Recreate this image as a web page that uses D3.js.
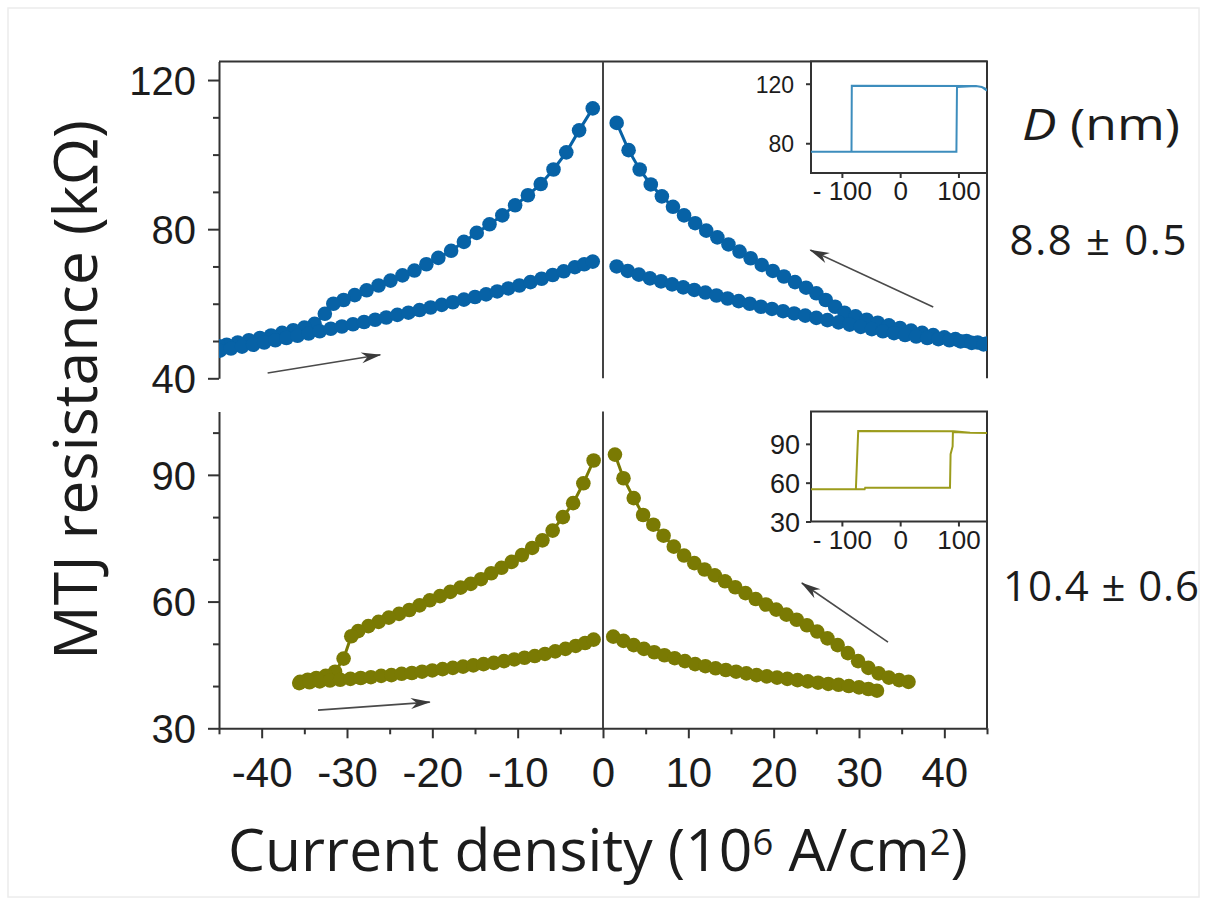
<!DOCTYPE html>
<html>
<head>
<meta charset="utf-8">
<script src="https://cdn.jsdelivr.net/npm/d3@7"></script>
<style>
  body { margin: 0; background: #fff; }
  svg { display: block; }
  text { font-family: "Liberation Sans", Arial, sans-serif; fill: #1c1c1c; }
  .title { font-family: "Open Sans", "Noto Sans", sans-serif; }
  .axis path, .axis line { stroke: #333; stroke-width: 2; }
</style>
</head>
<body>
<svg id="chart"></svg>
<script>
// ---- data (current density in 10^6 A/cm^2, resistance in kOhm) ----
const xMajorTicks = [-40, -30, -20, -10, 0, 10, 20, 30, 40];
const xMinorTicks = [-45, -35, -25, -15, -5, 5, 15, 25, 35, 45];
const topYMajor = [40, 80, 120];
const topYMinor = [50, 60, 70, 90, 100, 110];
const bottomYMajor = [30, 60, 90];
const bottomYMinor = [40, 50, 70, 80, 100];
const insetXTicks = [-100, 0, 100];
const topInsetYTicks = [80, 120];
const bottomInsetYTicks = [30, 60, 90];

// D = 8.8 nm
const topNegUpperJ = [-1.2, -2.8, -4.3, -5.8, -7.3, -8.8, -10.3, -11.8, -13.3, -14.8, -16.3, -17.8, -19.3, -20.7, -22.1, -23.5, -24.9, -26.3, -27.7, -29.1, -30.4, -31.6, -32.6, -33.8, -35.0, -36.3, -37.6, -38.9, -40.2, -41.5, -42.8, -44.1, -45.0];
const topNegUpperR = [112.4, 106.5, 100.6, 96.0, 92.1, 89.1, 86.4, 83.7, 81.3, 79.0, 76.6, 74.2, 72.3, 70.6, 68.9, 67.6, 66.2, 64.9, 63.6, 62.3, 61.0, 60.0, 57.3, 54.6, 53.6, 52.9, 52.2, 51.5, 50.8, 50.2, 49.6, 49.0, 48.6];
const topNegLowerJ = [-44.9, -43.6, -42.3, -41.0, -39.7, -38.4, -37.1, -35.8, -34.5, -33.2, -31.9, -30.6, -29.3, -28.0, -26.7, -25.4, -24.1, -22.8, -21.5, -20.2, -18.9, -17.6, -16.3, -15.0, -13.7, -12.4, -11.1, -9.8, -8.5, -7.2, -5.9, -4.6, -3.3, -2.2, -1.2];
const topNegLowerR = [47.4, 48.0, 48.5, 49.0, 49.6, 50.2, 50.8, 51.4, 52.0, 52.6, 53.3, 53.9, 54.5, 55.1, 55.7, 56.3, 57.0, 57.6, 58.3, 59.0, 59.7, 60.4, 61.1, 61.8, 62.5, 63.3, 64.1, 64.9, 65.8, 66.7, 67.7, 68.7, 69.8, 70.6, 71.3];
const topPosUpperJ = [1.6, 3.0, 4.3, 5.6, 6.9, 8.2, 9.5, 10.8, 12.1, 13.4, 14.7, 16.0, 17.3, 18.6, 19.9, 21.2, 22.5, 23.8, 25.0, 26.1, 27.2, 28.3, 29.6, 30.9, 32.2, 33.5, 34.8, 36.1, 37.4, 38.7, 40.0, 41.3, 42.6, 43.9, 45.0];
const topPosUpperR = [108.5, 101.2, 96.0, 92.0, 88.8, 86.0, 83.7, 81.6, 79.6, 77.8, 75.9, 74.0, 72.2, 70.4, 68.8, 67.3, 65.8, 64.3, 62.8, 61.0, 59.2, 57.6, 56.6, 55.7, 54.9, 54.2, 53.5, 52.8, 52.2, 51.6, 51.0, 50.5, 50.0, 49.6, 49.3];
const topPosLowerJ = [1.6, 2.9, 4.2, 5.5, 6.8, 8.1, 9.4, 10.7, 12.0, 13.3, 14.6, 15.9, 17.2, 18.5, 19.8, 21.1, 22.4, 23.7, 25.0, 26.3, 27.6, 28.9, 30.2, 31.5, 32.8, 34.1, 35.4, 36.7, 38.0, 39.3, 40.6, 41.9, 43.2, 44.6];
const topPosLowerR = [70.0, 68.8, 67.8, 66.8, 66.0, 65.2, 64.4, 63.7, 63.0, 62.2, 61.4, 60.7, 60.0, 59.2, 58.6, 58.0, 57.4, 56.8, 56.2, 55.6, 55.0, 54.4, 53.8, 53.2, 52.6, 52.1, 51.6, 51.2, 50.8, 50.5, 50.2, 49.9, 49.5, 49.1];

// D = 10.4 nm
const botNegUpperJ = [-1.1, -2.3, -3.5, -4.7, -5.9, -7.1, -8.3, -9.5, -10.7, -11.9, -13.1, -14.3, -15.5, -16.7, -17.9, -19.1, -20.3, -21.5, -22.7, -23.9, -25.1, -26.3, -27.5, -28.7, -29.5, -30.4, -31.4, -32.5, -33.6, -34.6, -35.5];
const botNegUpperR = [93.4, 88.0, 83.3, 80.0, 76.8, 74.5, 72.7, 71.0, 69.4, 68.0, 66.7, 65.3, 64.2, 63.3, 62.3, 61.3, 60.3, 59.1, 58.0, 57.1, 56.2, 55.2, 54.2, 53.0, 51.8, 46.5, 43.4, 42.4, 41.9, 41.5, 41.0];
const botNegLowerJ = [-35.6, -34.4, -33.2, -32.0, -30.8, -29.6, -28.4, -27.2, -26.0, -24.8, -23.6, -22.4, -21.2, -20.0, -18.8, -17.6, -16.4, -15.2, -14.0, -12.8, -11.6, -10.4, -9.2, -8.0, -6.8, -5.6, -4.4, -3.2, -2.1, -1.1];
const botNegLowerR = [40.7, 40.9, 41.1, 41.3, 41.5, 41.7, 41.9, 42.1, 42.4, 42.6, 42.9, 43.1, 43.4, 43.7, 44.0, 44.3, 44.6, 44.9, 45.2, 45.5, 45.9, 46.3, 46.7, 47.1, 47.6, 48.2, 48.8, 49.5, 50.2, 51.0];
const botPosUpperJ = [1.4, 2.4, 3.6, 4.7, 5.9, 7.1, 8.3, 9.5, 10.7, 11.9, 13.1, 14.3, 15.5, 16.7, 17.9, 19.1, 20.3, 21.5, 22.7, 23.9, 25.1, 26.3, 27.5, 28.7, 29.9, 31.1, 32.3, 33.5, 34.7, 35.8];
const botPosUpperR = [94.8, 89.2, 84.5, 80.5, 78.2, 75.6, 73.0, 70.9, 69.1, 67.6, 66.2, 64.8, 63.4, 62.0, 60.6, 59.3, 58.1, 56.9, 55.7, 54.4, 52.9, 51.3, 49.7, 47.8, 45.9, 44.3, 43.0, 42.0, 41.4, 41.0];
const botPosLowerJ = [1.2, 2.4, 3.6, 4.8, 6.0, 7.2, 8.4, 9.6, 10.8, 12.0, 13.2, 14.4, 15.6, 16.8, 18.0, 19.2, 20.4, 21.6, 22.8, 24.0, 25.2, 26.4, 27.6, 28.8, 30.0, 31.1, 32.1];
const botPosLowerR = [51.7, 50.7, 49.7, 48.8, 48.0, 47.3, 46.6, 45.9, 45.2, 44.7, 44.2, 43.8, 43.4, 43.0, 42.6, 42.3, 42.0, 41.7, 41.4, 41.1, 40.8, 40.5, 40.3, 40.0, 39.7, 39.3, 38.9];

// insets: field sweep (Oe) vs resistance (kOhm)
const topInsetField = [-153, 96.5, 97.5, 130, 140, 146, 149, 140, 130, -83, -83.5, -153];
const topInsetR = [74.2, 74.2, 117.8, 118.4, 117.8, 116.8, 115.4, 117.8, 118.4, 118.6, 74.2, 74.2];
const botInsetField = [-153, -61, -60, 85.5, 86.5, 90, 90.5, 120, 149, 120, 92, -72, -76, -153];
const botInsetR = [54.9, 54.9, 56.1, 56.1, 82, 88, 99.2, 98.6, 98.3, 98.6, 99.8, 99.9, 54.9, 54.9];

// arrows [j0, r0, j1, r1] in data units
const topArrows = [[-39.3, 41.4, -26.1, 46.3], [38.7, 59.1, 24.3, 74.4]];
const botArrows = [[-33.4, 34.3, -20.3, 36.2], [33.4, 50.4, 23.3, 64.4]];

const sizeLabels = ['8.8 \u00b1 0.5', '10.4 \u00b1 0.6'];

// ---- layout ----
const W = 1207, H = 905;
const plotLeft = 219, plotRight = 987;
const blue = '#0762a6', olive = '#7a7a03';
const plainNum = d => String(d); // hyphen minus like the original figure

const svg = d3.select('#chart').attr('width', W).attr('height', H);

svg.append('rect')
  .attr('x', 8).attr('y', 8).attr('width', W - 16).attr('height', H - 16)
  .attr('fill', 'none').attr('stroke', '#ececec').attr('stroke-width', 1.5);

const x = d3.scaleLinear().domain([-45, 45]).range([plotLeft, plotRight]);

const defs = svg.append('defs');
defs.append('marker')
  .attr('id', 'arrowhead')
  .attr('markerUnits', 'userSpaceOnUse')
  .attr('viewBox', '-20 -6 22 12')
  .attr('refX', 0).attr('refY', 0)
  .attr('markerWidth', 22).attr('markerHeight', 12)
  .attr('orient', 'auto')
  .append('path')
  .attr('d', 'M1,0 L-19,-5.5 L-13,0 L-19,5.5 Z')
  .attr('fill', '#3a3a3a');

const panels = [
  {
    id: 'top', color: blue, insetColor: '#3d8dbd',
    yDomain: [40, 125], yRange: [378.3, 61.4],
    major: topYMajor, minor: topYMinor, bottomAxis: false, topLine: true,
    branches: [[topNegUpperJ, topNegUpperR], [topNegLowerJ, topNegLowerR], [topPosUpperJ, topPosUpperR], [topPosLowerJ, topPosLowerR]],
    arrows: topArrows,
    inset: { field: topInsetField, r: topInsetR, yDomain: [60, 135], yRange: [173, 61.4], ticks: topInsetYTicks, pad: 12, ySize: 23 },
    label: sizeLabels[0], labelX: 1098, labelY: 255, labelW: 177
  },
  {
    id: 'bottom', color: olive, insetColor: '#9c9c1c',
    yDomain: [30, 105], yRange: [728.3, 411.5],
    major: bottomYMajor, minor: bottomYMinor, bottomAxis: true, topLine: false,
    branches: [[botNegUpperJ, botNegUpperR], [botNegLowerJ, botNegLowerR], [botPosUpperJ, botPosUpperR], [botPosLowerJ, botPosLowerR]],
    arrows: botArrows,
    inset: { field: botInsetField, r: botInsetR, yDomain: [30, 115], yRange: [521.5, 411.5], ticks: bottomInsetYTicks, pad: 6, ySize: 27 },
    label: sizeLabels[1], labelX: 1101, labelY: 601, labelW: 196
  }
];

panels.forEach(p => {
  const y = d3.scaleLinear().domain(p.yDomain).range(p.yRange);
  const g = svg.append('g').attr('class', 'panel-' + p.id);

  // clip to plot area
  defs.append('clipPath').attr('id', 'clip-' + p.id)
    .append('rect')
    .attr('x', plotLeft).attr('y', p.yRange[1])
    .attr('width', plotRight - plotLeft).attr('height', p.yRange[0] - p.yRange[1]);

  // left axis, major + minor ticks
  const yAxis = g.append('g').attr('class', 'axis')
    .attr('transform', `translate(${plotLeft},0)`)
    .call(d3.axisLeft(y).tickValues(p.major).tickSize(11).tickSizeOuter(0).tickPadding(12).tickFormat(plainNum));
  yAxis.selectAll('text').attr('font-size', 40).attr('dy', '0.36em');
  g.append('g').attr('class', 'axis')
    .attr('transform', `translate(${plotLeft},0)`)
    .call(d3.axisLeft(y).tickValues(p.minor).tickSize(6).tickFormat(''))
    .call(a => a.select('.domain').remove());

  // right frame line, top line, zero line
  g.append('line').attr('x1', x(45)).attr('x2', x(45))
    .attr('y1', y.range()[0]).attr('y2', y.range()[1])
    .attr('stroke', '#333').attr('stroke-width', 2);
  if (p.topLine) {
    g.append('line').attr('x1', x(-45)).attr('x2', x(45))
      .attr('y1', y.range()[1]).attr('y2', y.range()[1])
      .attr('stroke', '#333').attr('stroke-width', 2);
  }
  g.append('line').attr('x1', x(0)).attr('x2', x(0))
    .attr('y1', y.range()[0]).attr('y2', y.range()[1])
    .attr('stroke', '#444').attr('stroke-width', 2);

  if (p.bottomAxis) {
    const xAxis = g.append('g').attr('class', 'axis')
      .attr('transform', `translate(0,${y.range()[0]})`)
      .call(d3.axisBottom(x).tickValues(xMajorTicks).tickSize(10).tickSizeOuter(0).tickFormat(plainNum));
    xAxis.selectAll('text').attr('font-size', 42).attr('y', 29).attr('dy', '0.71em');
    g.append('g').attr('class', 'axis')
      .attr('transform', `translate(0,${y.range()[0]})`)
      .call(d3.axisBottom(x).tickValues(xMinorTicks).tickSize(6).tickFormat(''))
      .call(a => a.select('.domain').remove());
  }

  // data: connecting lines then dots
  const line = d3.line().x(d => x(d[0])).y(d => y(d[1]));
  const data = g.append('g').attr('clip-path', `url(#clip-${p.id})`);
  p.branches.forEach(b => {
    const pts = d3.zip(b[0], b[1]);
    data.append('path').datum(pts)
      .attr('d', line).attr('fill', 'none')
      .attr('stroke', p.color).attr('stroke-width', 3);
    data.selectAll(null).data(pts).enter().append('circle')
      .attr('cx', d => x(d[0])).attr('cy', d => y(d[1]))
      .attr('r', 7.3).attr('fill', p.color);
  });

  // arrows
  g.selectAll('.arrow').data(p.arrows).enter().append('line')
    .attr('class', 'arrow')
    .attr('x1', d => x(d[0])).attr('y1', d => y(d[1]))
    .attr('x2', d => x(d[2])).attr('y2', d => y(d[3]))
    .attr('stroke', '#4a4a4a').attr('stroke-width', 1.6)
    .attr('marker-end', 'url(#arrowhead)');

  // inset
  const ins = p.inset;
  const ix = d3.scaleLinear().domain([-153, 149]).range([811, plotRight]);
  const iy = d3.scaleLinear().domain(ins.yDomain).range(ins.yRange);
  const ig = g.append('g').attr('class', 'inset');
  ig.append('rect')
    .attr('x', ix.range()[0]).attr('y', iy.range()[1])
    .attr('width', ix.range()[1] - ix.range()[0])
    .attr('height', iy.range()[0] - iy.range()[1])
    .attr('fill', '#fff').attr('stroke', '#333').attr('stroke-width', 2);
  defs.append('clipPath').attr('id', 'iclip-' + p.id)
    .append('rect')
    .attr('x', ix.range()[0]).attr('y', iy.range()[1])
    .attr('width', ix.range()[1] - ix.range()[0])
    .attr('height', iy.range()[0] - iy.range()[1]);
  const iline = d3.line().x(d => ix(d[0])).y(d => iy(d[1]));
  ig.append('path').datum(d3.zip(ins.field, ins.r))
    .attr('clip-path', `url(#iclip-${p.id})`)
    .attr('d', iline).attr('fill', 'none')
    .attr('stroke', p.insetColor).attr('stroke-width', 2);
  const iyAxis = ig.append('g').attr('class', 'axis')
    .attr('transform', `translate(${ix.range()[0]},0)`)
    .call(d3.axisLeft(iy).tickValues(ins.ticks).tickSize(5).tickPadding(ins.pad).tickFormat(plainNum))
    .call(a => a.select('.domain').remove());
  iyAxis.selectAll('text').attr('font-size', ins.ySize).attr('dy', '0.36em');
  const ixAxis = ig.append('g').attr('class', 'axis')
    .attr('transform', `translate(0,${iy.range()[0]})`)
    .call(d3.axisBottom(ix).tickValues(insetXTicks).tickSize(5).tickFormat(d => d < 0 ? '- ' + (-d) : String(d)))
    .call(a => a.select('.domain').remove());
  ixAxis.selectAll('text').attr('font-size', 26).attr('y', 9).attr('dy', '0.71em');

  // diameter label
  svg.append('text').attr('class', 'title')
    .attr('x', p.labelX).attr('y', p.labelY)
    .attr('text-anchor', 'middle').attr('font-size', 42)
    .attr('textLength', p.labelW).attr('lengthAdjust', 'spacing')
    .text(p.label);
});

// right header: D (nm)
const dHead = svg.append('text').attr('class', 'title')
  .attr('x', 1101).attr('y', 140).attr('text-anchor', 'middle').attr('font-size', 43)
  .attr('textLength', 158).attr('lengthAdjust', 'spacingAndGlyphs');
dHead.append('tspan').attr('font-style', 'italic').text('D');
dHead.append('tspan').text(' (nm)');

// fit text to a target width by adjusting font-size
function fitWidth(sel, target) {
  const len = sel.node().getComputedTextLength();
  const fs = parseFloat(sel.attr('font-size'));
  sel.attr('font-size', fs * target / len);
}

// axis titles
const yTitle = svg.append('text').attr('class', 'title')
  .attr('transform', 'translate(97,390) rotate(-90)')
  .attr('text-anchor', 'middle').attr('font-size', 54)
  .text('MTJ resistance (k\u03a9)');
fitWidth(yTitle, 540);

const xTitle = svg.append('text').attr('class', 'title')
  .attr('x', 598).attr('y', 871).attr('text-anchor', 'middle').attr('font-size', 50);
xTitle.append('tspan').text('Current density (10');
xTitle.append('tspan').attr('dy', '-0.45em').attr('font-size', '0.62em').text('6');
xTitle.append('tspan').attr('dy', '0.28em').text(' A/cm');
xTitle.append('tspan').attr('dy', '-0.45em').attr('font-size', '0.62em').text('2');
xTitle.append('tspan').attr('dy', '0.28em').text(')');
fitWidth(xTitle, 740);
</script>
</body>
</html>
